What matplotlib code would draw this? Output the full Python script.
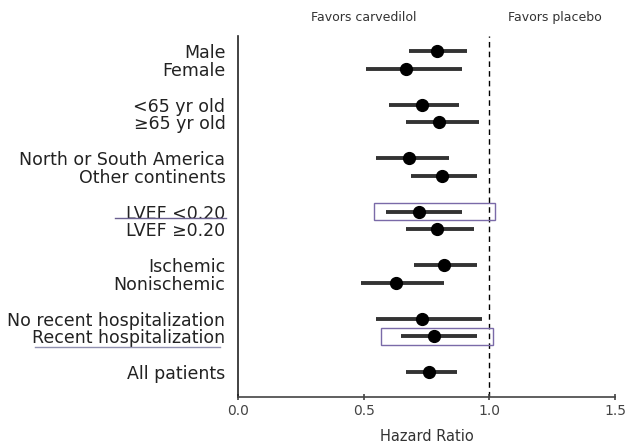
import matplotlib.pyplot as plt
from matplotlib.patches import Rectangle
import matplotlib.transforms as mtransforms

# subgroup labels and row positions (gaps between groups)
labels = ['Male', 'Female',
          '<65 yr old', '\u226565 yr old',
          'North or South America', 'Other continents',
          'LVEF <0.20', 'LVEF \u22650.20',
          'Ischemic', 'Nonischemic',
          'No recent hospitalization', 'Recent hospitalization',
          'All patients']
rows = [0, 1, 3, 4, 6, 7, 9, 10, 12, 13, 15, 16, 18]

hazard = [0.79, 0.67, 0.73, 0.80, 0.68, 0.81, 0.72, 0.79, 0.82, 0.63, 0.73, 0.78, 0.76]
ci_low = [0.68, 0.51, 0.60, 0.67, 0.55, 0.69, 0.59, 0.67, 0.70, 0.49, 0.55, 0.65, 0.67]
ci_high = [0.91, 0.89, 0.88, 0.96, 0.84, 0.95, 0.89, 0.94, 0.95, 0.82, 0.97, 0.95, 0.87]

# highlighted rows: (row index, box x-range)
boxes = [(6, 0.543, 1.021), (11, 0.570, 1.015)]

fig = plt.figure(figsize=(6.37, 4.48), dpi=100)
ax = fig.add_axes([0.3736, 0.1138, 0.592, 0.8058])

for y, h, lo, hi in zip(rows, hazard, ci_low, ci_high):
    ax.plot([lo, hi], [y, y], color='#333333', lw=2.8, solid_capstyle='butt', zorder=2)
    ax.plot(h, y, 'o', color='black', markersize=8.5, zorder=3)

ax.axvline(1.0, color='black', lw=1, ls=(0, (4, 3)), zorder=1)

ax.set_xlim(0, 1.5)
ax.set_ylim(19.4, -0.84)
ax.set_xticks([0.0, 0.5, 1.0, 1.5])
ax.set_xticklabels(['0.0', '0.5', '1.0', '1.5'])
ax.set_yticks(rows)
ax.set_yticklabels(labels)

ax.spines['top'].set_visible(False)
ax.spines['right'].set_visible(False)
ax.spines['left'].set_linewidth(1.2)
ax.spines['bottom'].set_linewidth(1.2)
ax.spines['left'].set_color('#222222')
ax.spines['bottom'].set_color('#444444')

ax.tick_params(axis='y', length=0, pad=9, labelsize=12.5, labelcolor='#222222')
ax.tick_params(axis='x', length=4, direction='inout', width=1.2, color='#444444',
               labelsize=10, labelcolor='#444444', pad=3)
ax.set_xlabel('Hazard Ratio', fontsize=10.5, color='#333333', labelpad=8)

for idx, x0, x1 in boxes:
    y = rows[idx]
    ax.add_patch(Rectangle((x0, y - 0.48), x1 - x0, 0.96, fill=False,
                           edgecolor='#7a6aa8', lw=1, zorder=4))

# underlines below the highlighted labels
trans = mtransforms.blended_transform_factory(ax.transAxes, ax.transData)
ax.plot([-0.326, -0.032], [rows[6] + 0.37, rows[6] + 0.37], color='#6a6090', lw=1,
        transform=trans, clip_on=False)
ax.plot([-0.538, -0.048], [rows[11] + 0.57, rows[11] + 0.57], color='#9090b0', lw=1,
        transform=trans, clip_on=False)

top = mtransforms.blended_transform_factory(ax.transData, ax.transAxes)
ax.text(0.5, 1.05, 'Favors carvedilol', transform=top, ha='center', va='center',
        fontsize=9, color='#333333')
ax.text(1.26, 1.05, 'Favors placebo', transform=top, ha='center', va='center',
        fontsize=9, color='#333333')

fig.savefig('out.png', dpi=100)
